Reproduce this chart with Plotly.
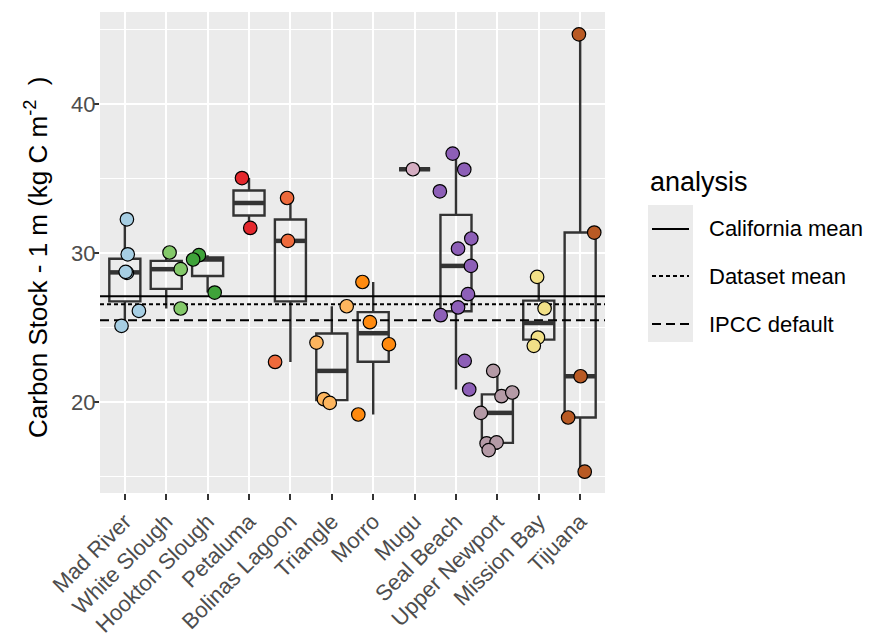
import numpy as np
import plotly.graph_objects as go

# ---------------- data ----------------
sites = ["Mad River", "White Slough", "Hookton Slough", "Petaluma", "Bolinas Lagoon",
         "Triangle", "Morro", "Mugu", "Seal Beach", "Upper Newport", "Mission Bay", "Tijuana"]
site_colors = ["#A6CEE3", "#84C96A", "#3FA33A", "#E4282D", "#EE6A3C", "#FDB55E",
               "#FF8A0F", "#D5AEC2", "#8D5FB7", "#B49AA6", "#F2E087", "#B95A24"]

point_site = (["Mad River"] * 6 + ["White Slough"] * 3 + ["Hookton Slough"] * 3 +
              ["Petaluma"] * 2 + ["Bolinas Lagoon"] * 3 + ["Triangle"] * 4 +
              ["Morro"] * 4 + ["Mugu"] * 1 + ["Seal Beach"] * 11 +
              ["Upper Newport"] * 7 + ["Mission Bay"] * 4 + ["Tijuana"] * 5)
point_stock = [32.28, 29.93, 28.68, 28.75, 26.13, 25.12,
               30.05, 28.93, 26.29,
               29.87, 29.58, 27.36,
               35.05, 31.70,
               33.71, 30.83, 22.70,
               26.44, 24.00, 20.20, 19.95,
               28.07, 25.37, 23.89, 19.17,
               35.64,
               36.69, 35.62, 34.16, 30.99, 30.31, 29.15, 27.25, 26.36, 25.84, 22.77, 20.85,
               22.10, 20.40, 20.65, 19.28, 17.23, 17.30, 16.78,
               28.41, 26.29, 24.34, 23.78,
               44.70, 31.39, 21.74, 18.97, 15.33]
point_jitter = [0.05, 0.07, 0.05, 0.02, 0.34, -0.08,
                0.08, 0.35, 0.35,
                -0.21, -0.35, 0.17,
                -0.17, 0.03,
                -0.08, -0.06, -0.37,
                0.36, -0.37, -0.19, -0.05,
                -0.26, -0.08, 0.38, -0.36,
                -0.04,
                -0.08, 0.20, -0.39, 0.37, 0.05, 0.36, 0.29, 0.05, -0.37, 0.21, 0.32,
                -0.10, 0.10, 0.36, -0.40, -0.26, -0.02, -0.21,
                -0.04, 0.14, -0.02, -0.12,
                -0.03, 0.34, 0.01, -0.29, 0.11]

ref_names = ["California mean", "Dataset mean", "IPCC default"]
ref_values = [27.12, 26.58, 25.50]
ref_dash = ["solid", "4px,3px", "9px,5px"]

y_ticks = [20, 30, 40]

# ---------------- figure ----------------
W, H = 872, 634
ML, MR, MT, MB = 100, 267, 12, 141
PW, PH = W - ML - MR, H - MT - MB


def px(x):
    return (x - ML) / PW


def py(y):
    return (H - MB - y) / PH


fig = go.Figure()
xr = [0.4, 12.6]
box_w = 0.75

# reference lines
for name, v, d in zip(ref_names, ref_values, ref_dash):
    fig.add_trace(go.Scatter(x=xr, y=[v, v], mode="lines",
                             line=dict(color="black", width=2, dash=d),
                             showlegend=False, hoverinfo="skip"))

stock = np.array(point_stock)
site_arr = np.array(point_site)
jit = np.array(point_jitter)

# boxes
for i, s in enumerate(sites):
    vals = np.sort(stock[site_arr == s])
    q1, med, q3 = np.percentile(vals, [25, 50, 75])
    iqr = q3 - q1
    lo = vals[vals >= q1 - 1.5 * iqr].min()
    hi = vals[vals <= q3 + 1.5 * iqr].max()
    xpos = i + 1
    fig.add_trace(go.Box(x=[xpos], q1=[q1], median=[med], q3=[q3],
                         lowerfence=[lo], upperfence=[hi], width=box_w,
                         fillcolor="rgba(0,0,0,0)",
                         line=dict(color="#333333", width=2.4),
                         whiskerwidth=0, boxpoints=False, showlegend=False,
                         hoverinfo="skip"))
    fig.add_trace(go.Scatter(x=[xpos - box_w / 2, xpos + box_w / 2], y=[med, med],
                             mode="lines", line=dict(color="#333333", width=4.5),
                             showlegend=False, hoverinfo="skip"))

# points
for i, s in enumerate(sites):
    m = site_arr == s
    fig.add_trace(go.Scatter(x=(i + 1) + jit[m], y=stock[m], mode="markers",
                             marker=dict(size=13.5, color=site_colors[i],
                                         line=dict(color="black", width=1.2)),
                             showlegend=False))

font_family = "Liberation Sans, Arial, sans-serif"

fig.update_layout(
    width=W, height=H,
    margin=dict(l=ML, r=MR, t=MT, b=MB, autoexpand=False),
    paper_bgcolor="white", plot_bgcolor="#EBEBEB",
    boxmode="overlay", showlegend=False,
    font=dict(family=font_family, color="black"),
    xaxis=dict(range=xr, tickmode="array", tickvals=list(range(1, 13)), ticktext=sites,
               tickangle=-45, ticks="outside", ticklen=6, tickwidth=2, tickcolor="#333333",
               tickfont=dict(size=22, color="#4D4D4D", family=font_family),
               showgrid=True, gridcolor="white", gridwidth=2, zeroline=False,
               showline=False, fixedrange=True, automargin=False),
    yaxis=dict(range=[13.9, 46.2], tickmode="array", tickvals=y_ticks,
               ticks="outside", ticklen=6, tickwidth=2, tickcolor="#333333",
               tickfont=dict(size=22, color="#4D4D4D", family=font_family),
               showgrid=True, gridcolor="white", gridwidth=2, zeroline=False,
               showline=False, automargin=False, ticklabelstandoff=-7,
               minor=dict(showgrid=True, gridcolor="white", gridwidth=1,
                          tickmode="array", tickvals=[15, 25, 35, 45], ticks=""),
               fixedrange=True),
)

# y-axis title
fig.add_annotation(xref="paper", yref="paper", x=px(36), y=py(258),
                   text="Carbon Stock - 1 m (kg C m<sup>-2</sup>  )", textangle=-90,
                   showarrow=False, xanchor="center", yanchor="middle",
                   font=dict(size=26, color="black", family=font_family))

# legend (drawn manually, ggplot style)
fig.add_annotation(xref="paper", yref="paper", x=px(648), y=py(182),
                   text="analysis", showarrow=False, xanchor="left", yanchor="middle",
                   font=dict(size=27, color="black", family=font_family))
fig.add_shape(type="rect", xref="paper", yref="paper",
              x0=px(648), x1=px(693), y0=py(342), y1=py(205),
              fillcolor="#EBEBEB", line=dict(width=0), layer="below")
leg_y = [229, 276, 324]
for name, d, yy in zip(ref_names, ref_dash, leg_y):
    fig.add_shape(type="line", xref="paper", yref="paper",
                  x0=px(652), x1=px(689), y0=py(yy), y1=py(yy),
                  line=dict(color="black", width=2, dash=d))
    fig.add_annotation(xref="paper", yref="paper", x=px(707), y=py(yy),
                       text=name, showarrow=False, xanchor="left", yanchor="middle",
                       font=dict(size=22, color="black", family=font_family))

fig.write_html("out.html")
